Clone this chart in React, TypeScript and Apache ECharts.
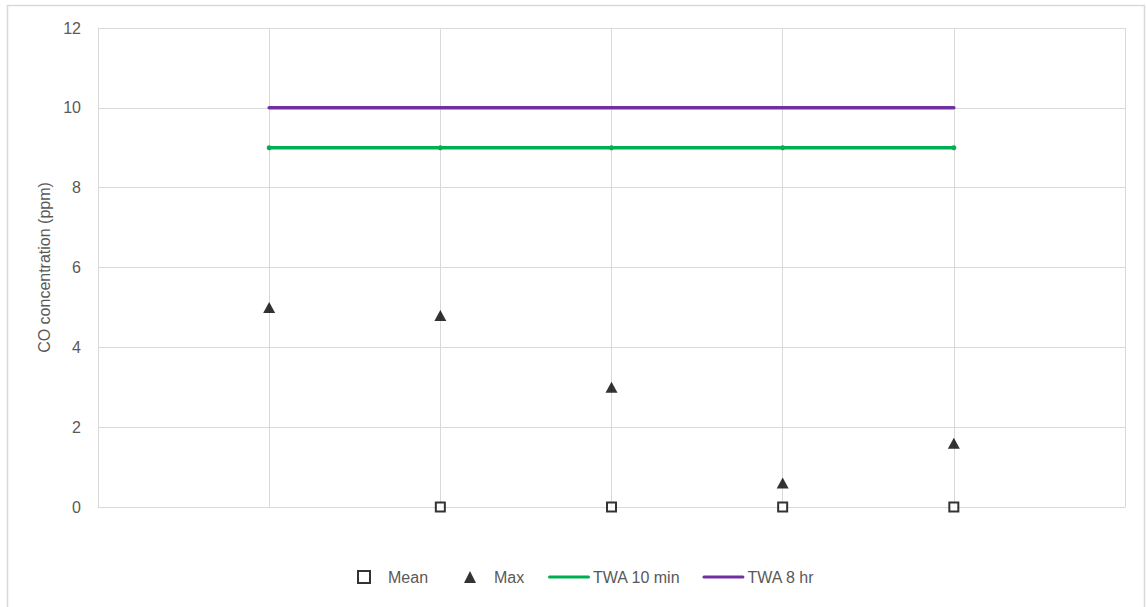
import React, { useEffect, useRef } from "react";
import * as echarts from "echarts";

const xPositions = [1, 2, 3, 4, 5];
const meanValues: (number | null)[] = [null, 0, 0, 0, 0];
const maxValues = [5, 4.8, 3, 0.6, 1.6];
const twa10Values = [9, 9, 9, 9, 9];
const twa8Values = [10, 10, 10, 10, 10];
const yAxisName = "CO concentration (ppm)";

const FONT = "Liberation Sans";
const TEXT = "#595959";
const GRID = "#d9d9d9";
const LINE_ICON = "path://M1.5,0 L40.5,0 A1.5,1.5 0 0 1 40.5,3 L1.5,3 A1.5,1.5 0 0 1 1.5,0 Z";

function pairs(vals: (number | null)[]) {
  return xPositions
    .map((x, i) => [x, vals[i]])
    .filter((p) => p[1] !== null);
}

export default function App() {
  const ref = useRef<HTMLDivElement>(null);
  useEffect(() => {
    if (!ref.current) return;
    const chart = echarts.init(ref.current, undefined, { renderer: "svg" });
    chart.setOption({
      animation: false,
      backgroundColor: "#ffffff",
      textStyle: { fontFamily: FONT },
      graphic: [
        {
          type: "rect",
          shape: { x: 7.5, y: 5.5, width: 1137, height: 620 },
          style: { fill: "none", stroke: GRID, lineWidth: 1.5 },
          silent: true,
        },
      ],
      grid: { left: 98, right: 21, top: 28, bottom: 100 },
      xAxis: {
        type: "value",
        min: 0,
        max: 6,
        interval: 1,
        axisLine: { show: true, lineStyle: { color: GRID } },
        axisTick: { show: false },
        axisLabel: { show: false },
        splitLine: { show: true, lineStyle: { color: GRID, width: 1 } },
      },
      yAxis: {
        type: "value",
        min: 0,
        max: 12,
        interval: 2,
        name: yAxisName,
        nameLocation: "middle",
        nameGap: 44,
        nameTextStyle: { color: TEXT, fontSize: 16, fontFamily: FONT },
        axisLine: { show: true, lineStyle: { color: GRID } },
        axisTick: { show: false },
        axisLabel: { color: TEXT, fontSize: 16, fontFamily: FONT, margin: 17 },
        splitLine: { show: true, lineStyle: { color: GRID, width: 1 } },
      },
      legend: [
        {
          data: ["Mean", "Max"],
          left: 357,
          top: 569,
          padding: 0,
          itemWidth: 12,
          itemHeight: 12,
          itemGap: 36,
          textStyle: { color: TEXT, fontSize: 16, fontFamily: FONT, padding: [0, 0, 0, 13] },
        },
        {
          data: [
            { name: "TWA 10 min", icon: LINE_ICON },
            { name: "TWA 8 hr", icon: LINE_ICON },
          ],
          left: 548,
          top: 569,
          padding: 0,
          itemWidth: 42,
          itemHeight: 12,
          itemGap: 22,
          textStyle: { color: TEXT, fontSize: 16, fontFamily: FONT, padding: [0, 0, 0, -2] },
        },
      ],
      series: [
        {
          name: "TWA 10 min",
          type: "line",
          data: pairs(twa10Values),
          symbol: "circle",
          symbolSize: 5,
          showSymbol: true,
          lineStyle: { color: "#00b050", width: 3.5, cap: "round" },
          itemStyle: { color: "#00b050" },
          z: 2,
        },
        {
          name: "TWA 8 hr",
          type: "line",
          data: pairs(twa8Values),
          symbol: "none",
          lineStyle: { color: "#7030a0", width: 3.5, cap: "round" },
          itemStyle: { color: "#7030a0" },
          z: 2,
        },
        {
          name: "Mean",
          type: "scatter",
          data: pairs(meanValues),
          symbol: "rect",
          symbolSize: 9,
          itemStyle: { color: "#ffffff", borderColor: "#000000", borderWidth: 2 },
          z: 3,
        },
        {
          name: "Max",
          type: "scatter",
          data: pairs(maxValues),
          symbol: "triangle",
          symbolSize: [12, 11],
          itemStyle: { color: "#000000" },
          z: 3,
        },
      ],
    });
    return () => chart.dispose();
  }, []);
  return (
    <div
      ref={ref}
      style={{ position: "fixed", left: 0, top: 0, width: 1146, height: 607 }}
    />
  );
}
